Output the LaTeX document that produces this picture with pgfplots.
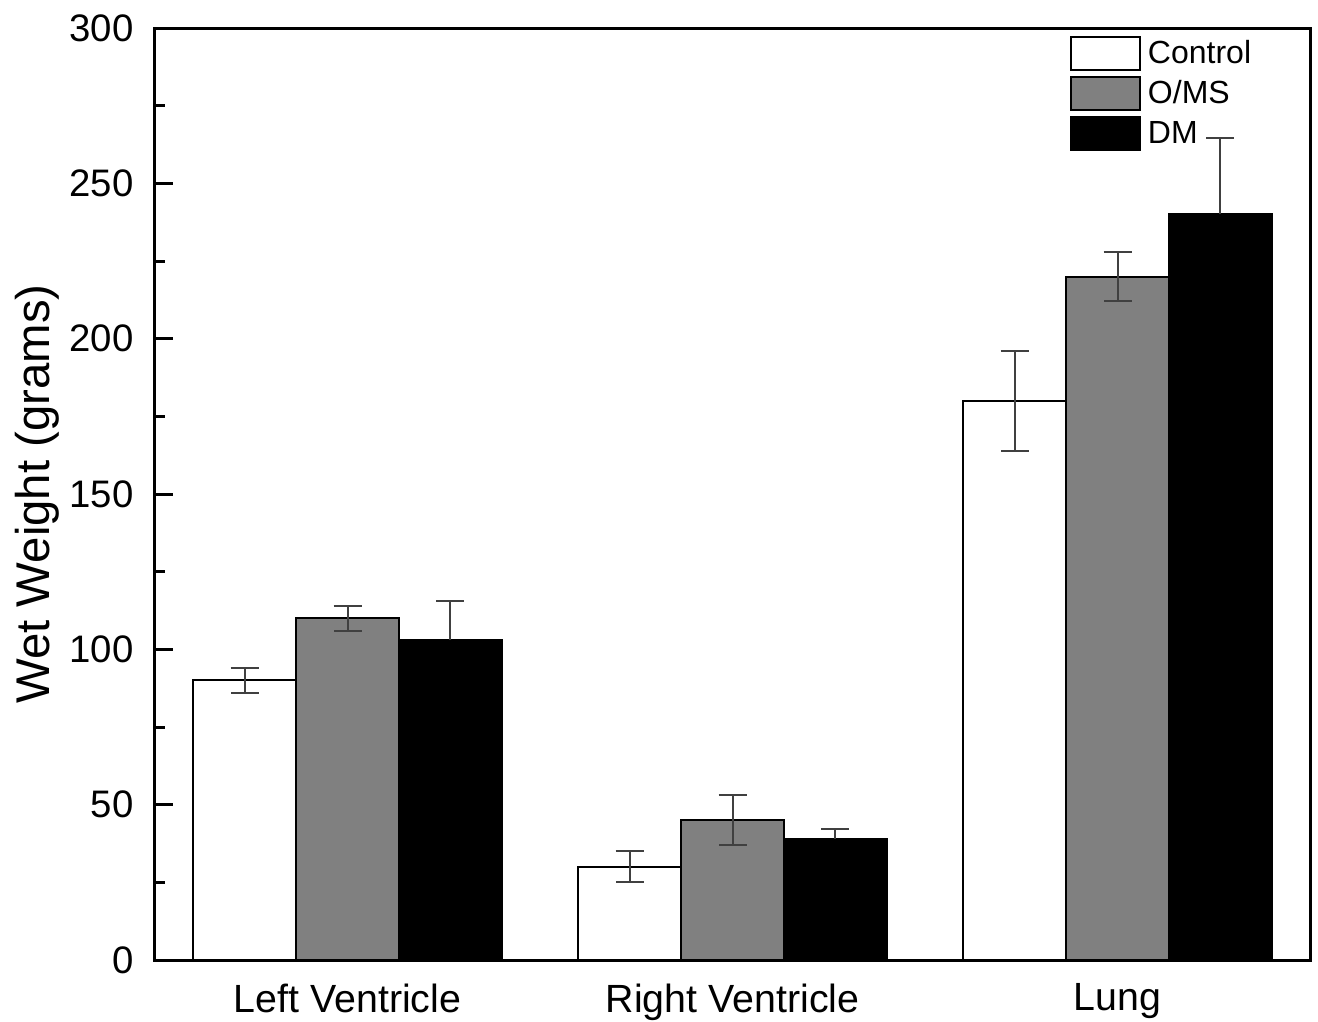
\documentclass[border=0pt]{standalone}
\usepackage{fontspec}
\setmainfont{Liberation Sans}
\usepackage{pgfplots}
\pgfplotsset{compat=1.18}
\definecolor{barGray}{HTML}{808080}
\definecolor{errGray}{HTML}{404040}
\begin{document}
\begin{tikzpicture}
\begin{axis}[
  name=ax,
  scale only axis,
  width=346.5pt, height=279.6pt,
  xmin=-0.5, xmax=2.5,
  ymin=0, ymax=300,
  ybar=0pt,
  bar width=0.267,
  xtick={0,1,2},
  xticklabels={Left Ventricle, Right Ventricle, Lung},
  x tick style={draw=none},
  x tick label style={font=\fontsize{11.8pt}{14pt}\selectfont, yshift=-3.6pt},
  ytick={0,50,100,150,200,250,300},
  minor y tick num=1,
  ytick pos=left,
  tick align=inside,
  major tick length=5.4pt,
  minor tick length=3pt,
  y tick label style={font=\fontsize{11.5pt}{14pt}\selectfont},
  yticklabel style={xshift=-2.9pt},
  /pgf/number format/assume math mode=true,
  axis line style={line width=0.9pt},
  every tick/.style={line width=0.9pt, black},
  ylabel={Wet Weight (grams)},
  y label style={at={(axis description cs:-0.1022,0.5)}, anchor=center, font=\fontsize{14.2pt}{17pt}\selectfont},
  legend style={draw=none, fill=none, at={(0.7913,0.9953)}, anchor=north west,
    inner sep=0pt, row sep=0pt, column sep=1.2pt,
    font=\fontsize{9.6pt}{11pt}\selectfont,
    nodes={inner sep=1pt, text height=8pt, text depth=2pt}},
  legend cell align=left,
  legend image code/.code={\draw[#1, line width=0.6pt] (0pt,-4.95pt) rectangle (20.7pt,4.95pt);},
  error bars/error bar style={line width=0.6pt, errGray},
  error bars/error mark options={rotate=90, mark size=4.2pt, line width=0.6pt, errGray},
]
\addplot[draw=black, fill=white, line width=0.6pt,
  error bars/.cd, y dir=both, y explicit]
  coordinates {(0,90) +- (0,4) (1,30) +- (0,5) (2,180) +- (0,16)};
\addlegendentry{Control}
\addplot[draw=black, fill=barGray, line width=0.6pt,
  error bars/.cd, y dir=both, y explicit]
  coordinates {(0,110) +- (0,4) (1,45) +- (0,8) (2,220) +- (0,8)};
\addlegendentry{O/MS}
\addplot[draw=black, fill=black, line width=0.6pt,
  error bars/.cd, y dir=plus, y explicit]
  coordinates {(0,103) +- (0,12.5) (1,39) +- (0,3.2) (2,240) +- (0,24.7)};
\addlegendentry{DM}
\end{axis}
\pgfresetboundingbox
\path (ax.south west) ++(-46.5pt,-18.3pt) rectangle ++(395.4pt,306.3pt);
\end{tikzpicture}
\end{document}
